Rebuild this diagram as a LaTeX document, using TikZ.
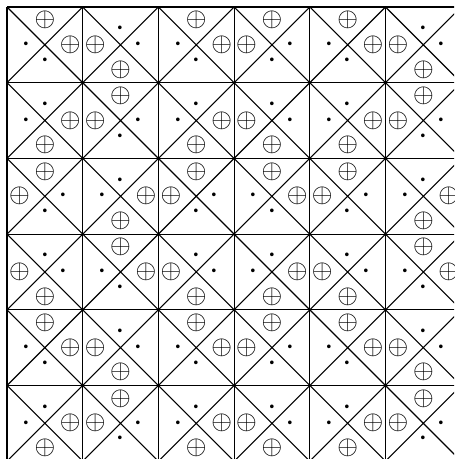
\documentclass[tikz,border=0pt]{standalone}
\usepackage{amsmath,amssymb}
\usepackage{tikz}
\tikzset{
  gr/.style={line width=0.8pt,black},
  opl/.style={inner sep=0pt,scale=2},
  pt/.style={inner sep=0pt,scale=2.6}
}
\begin{document}
\begin{tikzpicture}[x=2cm,y=2cm]
\useasboundingbox (-0.0925,0.029) rectangle (5.905,6.0925);
\clip (-0.0925,0.029) rectangle (5.905,6.0925);
\draw[gr,step=2cm] (0,0) grid (6,6);
% h: +1 = circled plus on the right, v: +1 = circled plus on top
\foreach \ro/\row in {0/{1/1,-1/-1,1/1,-1/1,1/1,-1/-1},1/{1/-1,-1/1,1/-1,-1/-1,1/-1,-1/1},
  2/{-1/1,1/-1,-1/1,1/1,-1/1,1/-1},3/{-1/-1,1/1,-1/-1,1/-1,-1/-1,1/1},
  4/{1/1,-1/-1,1/1,-1/1,1/1,-1/-1},5/{1/-1,-1/1,1/-1,-1/-1,1/-1,-1/1}}
 \foreach \h/\v [count=\c from 0] in \row {
  \pgfmathsetmacro{\xm}{\c+0.5}\pgfmathsetmacro{\ym}{5.5-\ro}
  \draw[gr] (\c,5-\ro) -- ++(1,1) (\c+1,5-\ro) -- ++(-1,1);
  \node[opl] (o-\ro-\c-a) at ({\xm+0.335*\h},\ym) {$\oplus$};
  \node[opl] (o-\ro-\c-b) at (\xm,{\ym+0.325*\v}) {$\oplus$};
  \node[pt] (d-\ro-\c-a) at ({\xm-0.24*\h},\ym) {$\cdot$};
  \node[pt] (d-\ro-\c-b) at (\xm,{\ym-0.21*\v}) {$\cdot$};
 }
\end{tikzpicture}
\end{document}
